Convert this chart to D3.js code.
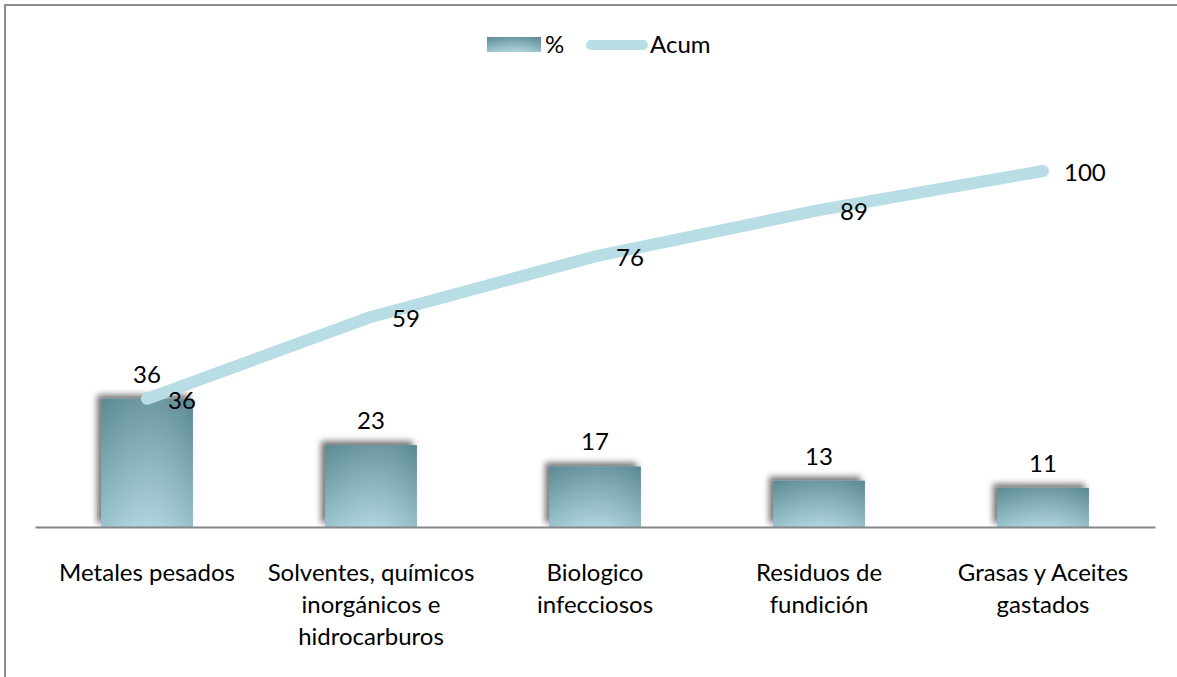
<!DOCTYPE html>
<html><head><meta charset="utf-8">
<script src="https://cdn.jsdelivr.net/npm/d3@7"></script>
<style>body{margin:0;background:#fff}svg{display:block}text{font-family:Lato,"Open Sans",sans-serif;fill:#000}</style>
</head><body><svg id="c" width="1177" height="677"></svg>
<script>
const categories = ["Metales pesados", "Solventes, químicos\ninorgánicos e\nhidrocarburos", "Biologico\ninfecciosos", "Residuos de\nfundición", "Grasas y Aceites\ngastados"];
const pct = [36, 23, 17, 13, 11];
const acum = [36, 59, 76, 89, 100];
const seriesNames = ["%", "Acum"];
const FS = 24;

const svg = d3.select("#c");
const defs = svg.append("defs");
const g1 = defs.append("linearGradient").attr("id","barg").attr("x1",0).attr("y1",0).attr("x2",0).attr("y2",1);
g1.append("stop").attr("offset","0%").attr("stop-color","#5f8f9a");
g1.append("stop").attr("offset","100%").attr("stop-color","#a9d2dc");
const g2 = defs.append("linearGradient").attr("id","barh").attr("x1",0).attr("y1",0).attr("x2",1).attr("y2",0);
g2.append("stop").attr("offset","0%").attr("stop-color","#3e6a74").attr("stop-opacity",0.15);
g2.append("stop").attr("offset","50%").attr("stop-color","#ffffff").attr("stop-opacity",0.08);
g2.append("stop").attr("offset","100%").attr("stop-color","#3e6a74").attr("stop-opacity",0.2);
const f = defs.append("filter").attr("id","sh").attr("x","-30%").attr("y","-30%").attr("width","160%").attr("height","160%");
f.append("feDropShadow").attr("dx",-4).attr("dy",-4).attr("stdDeviation",3).attr("flood-color","#000").attr("flood-opacity",0.55);

// frame
svg.append("rect").attr("x",5).attr("y",5).attr("width",1300).attr("height",800)
  .attr("fill","none").attr("stroke","#8c8c8c").attr("stroke-width",2);

const left = 35, right = 1155, base = 527;
const x = d3.scaleBand().domain(categories).range([left, right]).paddingInner(0.59).paddingOuter(0.295);
const y = d3.scaleLinear().domain([0, 120]).range([base, base - 120*3.56]);
const cx = c => x(c) + x.bandwidth()/2;

// bars
const bars = svg.append("g");
bars.selectAll("rect.b").data(categories).join("rect").attr("class","b")
  .attr("x", c => x(c)).attr("width", x.bandwidth())
  .attr("y", (c,i) => y(pct[i])).attr("height", (c,i) => base - y(pct[i]))
  .attr("fill","url(#barg)").attr("filter","url(#sh)");
bars.selectAll("rect.h").data(categories).join("rect").attr("class","h")
  .attr("x", c => x(c)).attr("width", x.bandwidth())
  .attr("y", (c,i) => y(pct[i])).attr("height", (c,i) => base - y(pct[i]))
  .attr("fill","url(#barh)");

// axis
const ax = svg.append("g").attr("transform",`translate(0,${base})`)
  .call(d3.axisBottom(x).tickSize(0).tickFormat(""));
ax.select(".domain").attr("stroke","#868686").attr("stroke-width",2);

// category labels
categories.forEach(c => {
  const lines = c.split("\n");
  const t = svg.append("text").attr("text-anchor","middle").attr("font-size",FS);
  lines.forEach((l,k) => t.append("tspan").attr("x", cx(c)).attr("y", 581 + k*32).text(l));
});

// line
const line = d3.line().x((d,i) => cx(categories[i])).y(d => y(d));
svg.append("path").datum(acum).attr("d", line).attr("fill","none")
  .attr("stroke","#b9dde5").attr("stroke-width",12).attr("stroke-linecap","round").attr("stroke-linejoin","round");

// bar labels
svg.selectAll("text.bl").data(pct).join("text").attr("class","bl")
  .attr("x",(d,i)=>cx(categories[i])).attr("y",d=>y(d)-16)
  .attr("text-anchor","middle").attr("font-size",FS).text(d=>d);
// line labels
svg.selectAll("text.ll").data(acum).join("text").attr("class","ll")
  .attr("x",(d,i)=>cx(categories[i])+21).attr("y",d=>y(d)+10)
  .attr("font-size",FS).text(d=>d);

// legend
const lg = svg.append("g");
lg.append("rect").attr("x",487).attr("y",37).attr("width",54).attr("height",15).attr("fill","url(#barg)");
lg.append("rect").attr("x",487).attr("y",37).attr("width",54).attr("height",15).attr("fill","url(#barh)");
lg.append("text").attr("x",545).attr("y",53).attr("font-size",FS).text(seriesNames[0]);
lg.append("line").attr("x1",591).attr("x2",643).attr("y1",45).attr("y2",45)
  .attr("stroke","#b9dde5").attr("stroke-width",10).attr("stroke-linecap","round");
lg.append("text").attr("x",650).attr("y",53).attr("font-size",FS).text(seriesNames[1]);
</script></body></html>
